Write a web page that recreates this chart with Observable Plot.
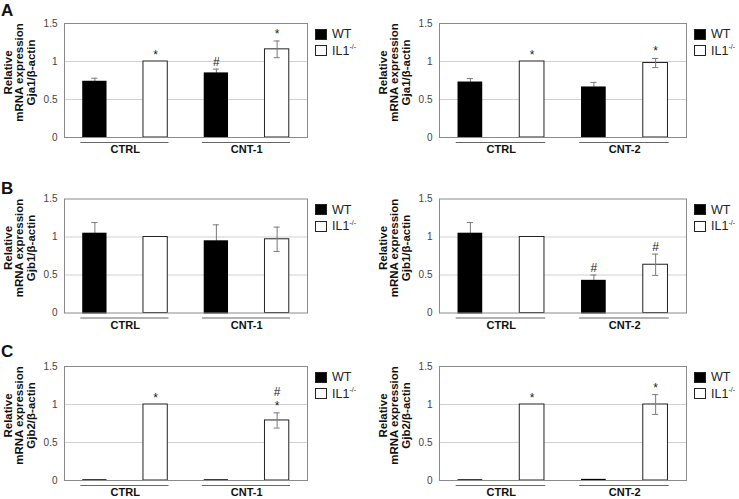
<!DOCTYPE html>
<html><head><meta charset="utf-8">
<script src="https://cdn.jsdelivr.net/npm/d3@7"></script>
<script src="https://cdn.jsdelivr.net/npm/@observablehq/plot@0.6"></script>
<style>
body{margin:0;background:#fff;font-family:"Liberation Sans",Arial,sans-serif;}
#fig{position:relative;width:739px;height:499px;overflow:hidden;background:#fff;}
.panel{position:absolute;}
.panel svg{display:block;}
.letter{position:absolute;left:1px;font-weight:bold;font-size:17px;line-height:17px;color:#111;}
.legend{position:absolute;font-size:12.5px;color:#222;}
.row{display:flex;align-items:center;height:16.5px;white-space:nowrap;}
.sw{width:10px;height:9px;border:1px solid #222;margin-right:5px;box-sizing:content-box;}
.sup{font-size:7px;position:relative;top:-4px;}
</style></head><body><div id="fig"></div><script>
// ---- data ----
const panelLetters = ["A", "B", "C"];
const genes = ["Gja1", "Gjb1", "Gjb2"];
const treatments = ["CNT-1", "CNT-2"];
const control = "CTRL";
const genotypes = ["WT", "IL1"];
const yTicks = [0, 0.5, 1, 1.5];

// order of bars: WT CTRL, IL1 CTRL, WT treatment, IL1 treatment
const gja1_cnt1 = [0.74, 1.00, 0.85, 1.16];
const gja1_cnt1_err = [0.04, 0, 0.05, 0.11];
const gja1_cnt1_sig = ["", "*", "#", "*"];
const gja1_cnt2 = [0.73, 1.00, 0.665, 0.98];
const gja1_cnt2_err = [0.045, 0, 0.06, 0.06];
const gja1_cnt2_sig = ["", "*", "", "*"];

const gjb1_cnt1 = [1.05, 1.00, 0.95, 0.97];
const gjb1_cnt1_err = [0.14, 0, 0.21, 0.16];
const gjb1_cnt1_sig = ["", "", "", ""];
const gjb1_cnt2 = [1.05, 1.00, 0.43, 0.635];
const gjb1_cnt2_err = [0.14, 0, 0.07, 0.14];
const gjb1_cnt2_sig = ["", "", "#", "#"];

const gjb2_cnt1 = [0.01, 1.00, 0.01, 0.79];
const gjb2_cnt1_err = [0, 0, 0, 0.10];
const gjb2_cnt1_sig = ["", "*", "", "#\n*"];
const gjb2_cnt2 = [0.01, 1.00, 0.015, 1.00];
const gjb2_cnt2_err = [0, 0, 0, 0.13];
const gjb2_cnt2_sig = ["", "*", "", "*"];

const series = [
  [[gja1_cnt1, gja1_cnt1_err, gja1_cnt1_sig], [gja1_cnt2, gja1_cnt2_err, gja1_cnt2_sig]],
  [[gjb1_cnt1, gjb1_cnt1_err, gjb1_cnt1_sig], [gjb1_cnt2, gjb1_cnt2_err, gjb1_cnt2_sig]],
  [[gjb2_cnt1, gjb2_cnt1_err, gjb2_cnt1_sig], [gjb2_cnt2, gjb2_cnt2_err, gjb2_cnt2_sig]]
];

// ---- layout ----
const colLeft = [0, 375], colWidth = [370, 364], colMR = [63, 53];
const rowTop = [0, 175, 343], rowMT = [23, 23.5, 23];
const H = 165, frameH = 114;
const FONT = '"Liberation Sans", Arial, Helvetica, sans-serif';

function chart(vals, errs, sigs, treat, gene, width, mr, mt) {
  const cats = [control, treat];
  const rows = vals.map((v, i) => ({
    i: i + 1, geno: genotypes[i % 2], group: cats[Math.floor(i / 2)], v, e: errs[i], s: sigs[i]
  }));
  const withErr = rows.filter(d => d.e > 0);
  return Plot.plot({
    width, height: H,
    marginLeft: 64, marginRight: mr, marginTop: mt, marginBottom: H - mt - frameH,
    style: {fontFamily: FONT, fontSize: "10px", color: "#444", background: "white", overflow: "visible"},
    x: {domain: [0.5, 4.5], axis: null},
    y: {domain: [0, 1.5], ticks: yTicks, tickFormat: d => String(d), tickSize: 0, tickPadding: 7, label: null},
    marks: [
      Plot.ruleY([0.5, 1], {stroke: "#d0d0d0", strokeWidth: 1}),
      Plot.rectY(rows.filter(d => d.geno !== "WT"), {x1: d => d.i - 0.2, x2: d => d.i + 0.2, y1: () => 0, y2: "v", fill: "white", stroke: "#222", strokeWidth: 1}),
      Plot.ruleX(withErr, {x: "i", y1: d => d.v - d.e, y2: d => d.v + d.e, stroke: "#7a7a7a"}),
      Plot.ruleY(withErr, {y: d => d.v + d.e, x1: d => d.i - 0.05, x2: d => d.i + 0.05, stroke: "#7a7a7a"}),
      Plot.ruleY(withErr.filter(d => d.geno !== "WT"), {y: d => d.v - d.e, x1: d => d.i - 0.05, x2: d => d.i + 0.05, stroke: "#7a7a7a"}),
      Plot.rectY(rows.filter(d => d.geno === "WT"), {x1: d => d.i - 0.2, x2: d => d.i + 0.2, y1: () => 0, y2: "v", fill: "black", insetBottom: -1}),
      Plot.frame({stroke: "#8a8a8a", strokeWidth: 1}),
      Plot.text(rows.filter(d => d.s), {x: "i", y: d => d.v + d.e, text: "s", lineAnchor: "bottom", dy: -3, fontSize: 12, lineHeight: 1.15, fill: "#222"}),
      Plot.ruleY(cats, {y: () => 0, x1: (d, j) => 2 * j + 1 - 0.23, x2: (d, j) => 2 * j + 2 + 0.22, dy: 5, stroke: "#666"}),
      Plot.text(cats, {x: (d, j) => 2 * j + 1.5, text: d => d, frameAnchor: "bottom", dy: 15.5, fontWeight: "bold", fontSize: 11, fill: "#111"}),
      Plot.text([`Relative\nmRNA expression\n${gene}/β-actin`], {text: d => d, frameAnchor: "left", textAnchor: "middle", rotate: -90, dx: -45, dy: -8, fontWeight: "bold", fontSize: 11.5, lineHeight: 1, fill: "#111"})
    ]
  });
}

const fig = document.getElementById("fig");
genes.forEach((gene, r) => {
  treatments.forEach((treat, c) => {
    const [vals, errs, sigs] = series[r][c];
    const div = document.createElement("div");
    div.className = "panel";
    div.style.left = colLeft[c] + "px";
    div.style.top = rowTop[r] + "px";
    div.style.width = colWidth[c] + "px";
    div.style.height = H + "px";
    div.appendChild(chart(vals, errs, sigs, treat, gene, colWidth[c], colMR[c], rowMT[r]));
    const lg = document.createElement("div");
    lg.className = "legend";
    lg.style.left = (colWidth[c] - colMR[c] + 8) + "px";
    lg.style.top = (rowMT[r] + 3) + "px";
    lg.innerHTML =
      `<div class="row"><span class="sw" style="background:#000"></span>${genotypes[0]}</div>` +
      `<div class="row"><span class="sw" style="background:#fff"></span>${genotypes[1]}<span class="sup">-/-</span></div>`;
    div.appendChild(lg);
    fig.appendChild(div);
  });
  const L = document.createElement("div");
  L.className = "letter";
  L.style.top = [2, 180, 343][r] + "px";
  L.textContent = panelLetters[r];
  fig.appendChild(L);
});
</script></body></html>
